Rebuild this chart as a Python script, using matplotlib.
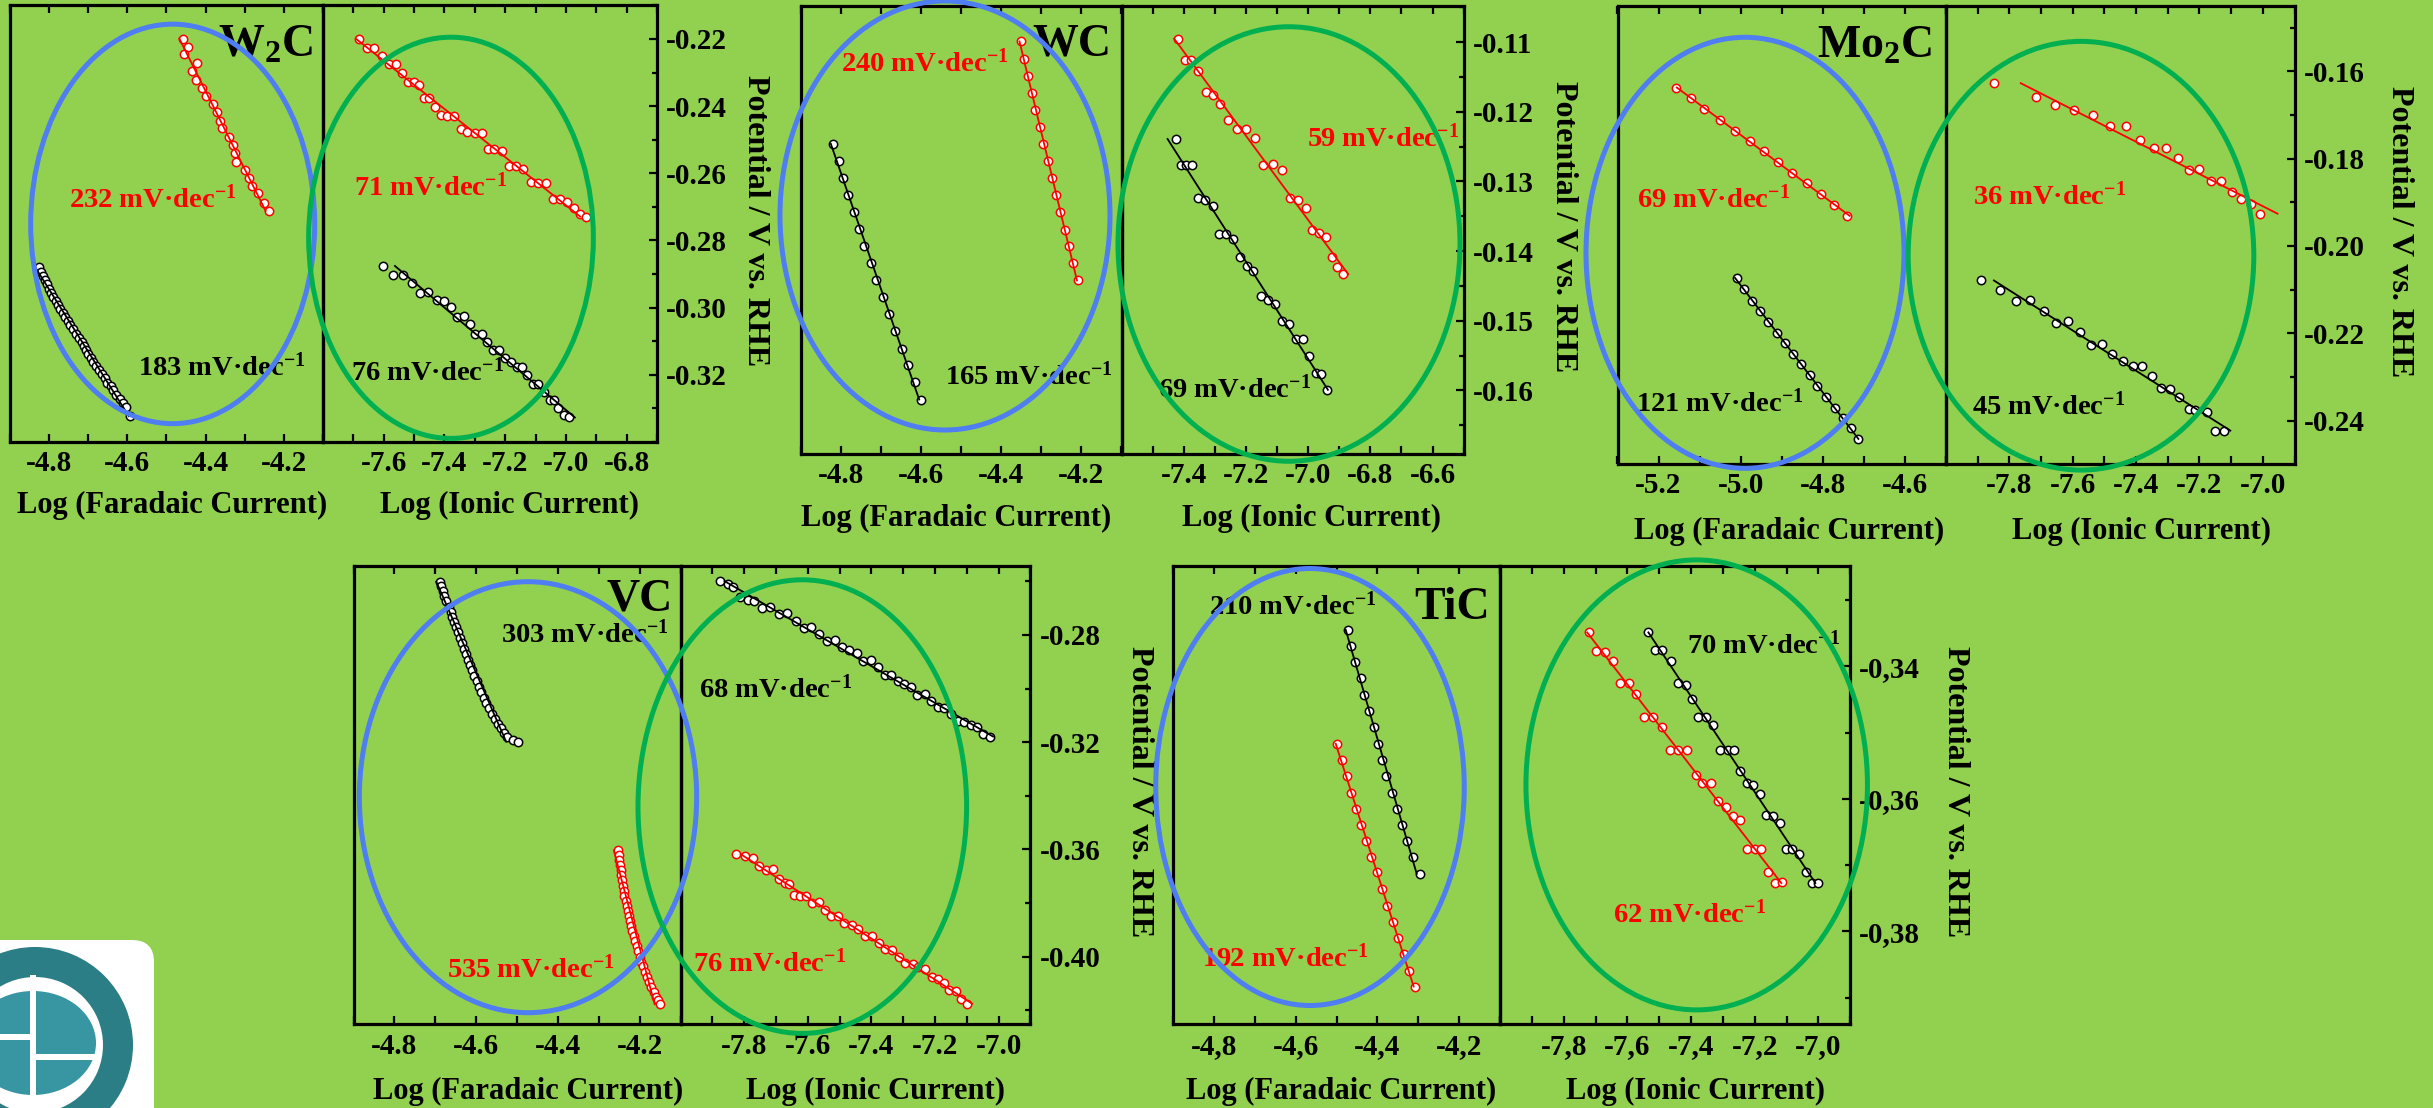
import numpy as np
import matplotlib
matplotlib.use('Agg')
import matplotlib.pyplot as plt
from matplotlib.patches import Ellipse, FancyBboxPatch, Wedge, Rectangle
from matplotlib.ticker import MultipleLocator, FuncFormatter

plt.rcParams['font.family'] = ['Liberation Serif', 'DejaVu Serif']
plt.rcParams['font.weight'] = 'bold'
plt.rcParams['mathtext.fontset'] = 'custom'
plt.rcParams['mathtext.rm'] = 'Liberation Serif:bold'
plt.rcParams['mathtext.it'] = 'Liberation Serif:bold'
plt.rcParams['mathtext.bf'] = 'Liberation Serif:bold'
plt.rcParams['mathtext.default'] = 'rm'
plt.rcParams['axes.unicode_minus'] = False

# ---------------- data ----------------
# W2C
w2c_far_red_x = [-4.458, -4.445, -4.454, -4.421, -4.436, -4.424, -4.410, -4.399, -4.381, -4.370, -4.363,
                 -4.358, -4.341, -4.331, -4.324, -4.322, -4.299, -4.288, -4.282, -4.265, -4.250, -4.237]
w2c_far_red_y = [-0.2199, -0.2223, -0.2246, -0.2271, -0.2296, -0.2321, -0.2345, -0.2370, -0.2394, -0.2419, -0.2444,
                 -0.2466, -0.2491, -0.2516, -0.2541, -0.2566, -0.2590, -0.2615, -0.2637, -0.2660, -0.2687, -0.2712]
w2c_far_blk_x = [-4.825, -4.821, -4.816, -4.811, -4.806, -4.801, -4.795, -4.789, -4.783, -4.778, -4.772, -4.765,
                 -4.759, -4.752, -4.747, -4.739, -4.731, -4.724, -4.717, -4.711, -4.706, -4.700, -4.694, -4.687,
                 -4.680, -4.672, -4.665, -4.658, -4.651, -4.643, -4.636, -4.628, -4.620, -4.612, -4.603, -4.593]
w2c_far_blk_y = [-0.2880, -0.2893, -0.2906, -0.2918, -0.2931, -0.2944, -0.2956, -0.2968, -0.2980, -0.2993, -0.3005,
                 -0.3017, -0.3027, -0.3040, -0.3052, -0.3065, -0.3077, -0.3089, -0.3101, -0.3114, -0.3126, -0.3139,
                 -0.3151, -0.3163, -0.3174, -0.3186, -0.3199, -0.3210, -0.3223, -0.3234, -0.3245, -0.3259, -0.3272,
                 -0.3284, -0.3295, -0.3323]
w2c_ion_red_x = [-7.680, -7.656, -7.632, -7.607, -7.582, -7.560, -7.539, -7.519, -7.500, -7.484, -7.469, -7.450,
                 -7.431, -7.411, -7.393, -7.368, -7.346, -7.325, -7.300, -7.277, -7.258, -7.236, -7.211, -7.189,
                 -7.165, -7.141, -7.116, -7.092, -7.065, -7.041, -7.019, -6.995, -6.973, -6.953, -6.934]
w2c_ion_red_y = [-0.2201, -0.2228, -0.2226, -0.2250, -0.2276, -0.2276, -0.2301, -0.2328, -0.2328, -0.2338, -0.2377,
                 -0.2377, -0.2402, -0.2427, -0.2429, -0.2429, -0.2468, -0.2476, -0.2479, -0.2481, -0.2528, -0.2528,
                 -0.2534, -0.2578, -0.2578, -0.2588, -0.2625, -0.2628, -0.2630, -0.2677, -0.2677, -0.2685, -0.2702,
                 -0.2721, -0.2729]
w2c_ion_blk_x = [-7.601, -7.568, -7.538, -7.508, -7.480, -7.453, -7.426, -7.401, -7.378, -7.360, -7.335, -7.316,
                 -7.299, -7.277, -7.261, -7.239, -7.219, -7.200, -7.182, -7.162, -7.145, -7.129, -7.109, -7.091,
                 -7.072, -7.052, -7.039, -7.025, -7.006, -6.991]
w2c_ion_blk_y = [-0.2876, -0.2903, -0.2903, -0.2928, -0.2956, -0.2953, -0.2977, -0.2980, -0.2999, -0.3027, -0.3024,
                 -0.3050, -0.3077, -0.3077, -0.3101, -0.3126, -0.3126, -0.3151, -0.3161, -0.3176, -0.3178, -0.3201,
                 -0.3227, -0.3227, -0.3250, -0.3275, -0.3275, -0.3300, -0.3320, -0.3327]

# WC
wc_far_red_x = [-4.352, -4.343, -4.333, -4.324, -4.315, -4.304, -4.295, -4.284, -4.274, -4.263, -4.253, -4.241,
                -4.232, -4.220, -4.209]
wc_far_red_y = [-0.1099, -0.1124, -0.1148, -0.1173, -0.1198, -0.1222, -0.1246, -0.1270, -0.1295, -0.1320, -0.1344,
                -0.1369, -0.1393, -0.1417, -0.1442]
wc_far_blk_x = [-4.820, -4.806, -4.794, -4.782, -4.768, -4.755, -4.742, -4.726, -4.712, -4.696, -4.680, -4.666,
                -4.649, -4.633, -4.615, -4.601]
wc_far_blk_y = [-0.1246, -0.1271, -0.1295, -0.1320, -0.1344, -0.1368, -0.1393, -0.1417, -0.1441, -0.1466, -0.1490,
                -0.1515, -0.1540, -0.1563, -0.1588, -0.1613]
wc_ion_red_x = [-7.417, -7.396, -7.377, -7.353, -7.329, -7.305, -7.283, -7.257, -7.230, -7.200, -7.172, -7.144,
                -7.114, -7.085, -7.058, -7.032, -7.007, -6.986, -6.964, -6.943, -6.924, -6.906, -6.887]
wc_ion_red_y = [-0.1095, -0.1126, -0.1125, -0.1141, -0.1171, -0.1176, -0.1189, -0.1212, -0.1225, -0.1225, -0.1238,
                -0.1276, -0.1275, -0.1283, -0.1324, -0.1326, -0.1338, -0.1370, -0.1374, -0.1379, -0.1409, -0.1423,
                -0.1433]
wc_ion_blk_x = [-7.425, -7.409, -7.393, -7.374, -7.355, -7.332, -7.307, -7.286, -7.264, -7.241, -7.219, -7.198,
                -7.176, -7.152, -7.130, -7.107, -7.083, -7.061, -7.039, -7.018, -6.996, -6.975, -6.957, -6.938]
wc_ion_blk_y = [-0.1239, -0.1276, -0.1276, -0.1276, -0.1323, -0.1326, -0.1335, -0.1376, -0.1376, -0.1382, -0.1409,
                -0.1422, -0.1429, -0.1464, -0.1470, -0.1476, -0.1500, -0.1504, -0.1526, -0.1526, -0.1551, -0.1575,
                -0.1576, -0.1599]

# Mo2C
mo_far_red_x = [-5.158, -5.120, -5.089, -5.050, -5.014, -4.978, -4.944, -4.908, -4.874, -4.839, -4.805, -4.773, -4.741]
mo_far_red_y = [-0.1637, -0.1661, -0.1687, -0.1711, -0.1736, -0.1759, -0.1783, -0.1807, -0.1832, -0.1856, -0.1880,
                -0.1906, -0.1931]
mo_far_blk_x = [-5.010, -4.992, -4.973, -4.953, -4.933, -4.912, -4.893, -4.872, -4.853, -4.832, -4.813, -4.791,
                -4.771, -4.750, -4.731, -4.714]
mo_far_blk_y = [-0.2073, -0.2099, -0.2125, -0.2148, -0.2174, -0.2199, -0.2223, -0.2247, -0.2271, -0.2296, -0.2321,
                -0.2345, -0.2371, -0.2395, -0.2418, -0.2442]
mo_ion_red_x = [-7.848, -7.715, -7.655, -7.595, -7.537, -7.483, -7.431, -7.386, -7.344, -7.305, -7.269, -7.234,
                -7.200, -7.164, -7.132, -7.098, -7.069, -7.038, -7.008]
mo_ion_red_y = [-0.1627, -0.1659, -0.1678, -0.1688, -0.1699, -0.1726, -0.1726, -0.1758, -0.1776, -0.1776, -0.1799,
                -0.1827, -0.1824, -0.1852, -0.1852, -0.1877, -0.1893, -0.1903, -0.1926]
mo_ion_blk_x = [-7.888, -7.830, -7.780, -7.734, -7.691, -7.653, -7.616, -7.577, -7.543, -7.506, -7.475, -7.441,
                -7.410, -7.381, -7.349, -7.320, -7.292, -7.266, -7.234, -7.213, -7.177, -7.151, -7.122]
mo_ion_blk_y = [-0.2079, -0.2100, -0.2125, -0.2123, -0.2148, -0.2177, -0.2173, -0.2198, -0.2226, -0.2225, -0.2247,
                -0.2263, -0.2276, -0.2274, -0.2297, -0.2326, -0.2327, -0.2345, -0.2374, -0.2375, -0.2381, -0.2423,
                -0.2423]

# VC
vc_far_blk_x = [-4.689, -4.685, -4.682, -4.678, -4.673, -4.667, -4.662, -4.658, -4.653, -4.649, -4.644, -4.640,
                -4.635, -4.630, -4.624, -4.621, -4.615, -4.610, -4.605, -4.599, -4.594, -4.587, -4.581, -4.576,
                -4.569, -4.562, -4.554, -4.547, -4.540, -4.533, -4.524, -4.510, -4.497]
vc_far_blk_y = [-0.2601, -0.2617, -0.2635, -0.2655, -0.2675, -0.2696, -0.2716, -0.2732, -0.2750, -0.2770, -0.2790,
                -0.2811, -0.2831, -0.2851, -0.2871, -0.2892, -0.2912, -0.2932, -0.2952, -0.2973, -0.2993, -0.3013,
                -0.3034, -0.3054, -0.3074, -0.3094, -0.3115, -0.3132, -0.3148, -0.3166, -0.3182, -0.3192, -0.3198]
vc_far_red_x = [-4.2535, -4.2517, -4.2499, -4.2482, -4.2464, -4.2446, -4.2428, -4.2410, -4.2392, -4.2374, -4.2338,
                -4.2320, -4.2285, -4.2267, -4.2231, -4.2213, -4.2177, -4.2141, -4.2105, -4.2070, -4.2034, -4.1998,
                -4.1962, -4.1908, -4.1873, -4.1819, -4.1765, -4.1712, -4.1658, -4.1604, -4.1550, -4.1497]
vc_far_red_y = [-0.3604, -0.3621, -0.3640, -0.3659, -0.3678, -0.3697, -0.3716, -0.3735, -0.3754, -0.3773, -0.3791,
                -0.3810, -0.3829, -0.3848, -0.3867, -0.3886, -0.3905, -0.3924, -0.3943, -0.3962, -0.3981, -0.4000,
                -0.4019, -0.4037, -0.4056, -0.4075, -0.4094, -0.4113, -0.4132, -0.4151, -0.4164, -0.4178]
vc_ion_blk_x = [-7.875, -7.851, -7.834, -7.813, -7.789, -7.768, -7.744, -7.719, -7.692, -7.664, -7.638, -7.612,
                -7.589, -7.564, -7.540, -7.516, -7.493, -7.470, -7.446, -7.425, -7.402, -7.379, -7.358, -7.337,
                -7.316, -7.296, -7.275, -7.256, -7.233, -7.212, -7.192, -7.171, -7.150, -7.129, -7.109, -7.088,
                -7.067, -7.048, -7.028]
vc_ion_blk_y = [-0.2599, -0.2610, -0.2620, -0.2660, -0.2670, -0.2672, -0.2698, -0.2694, -0.2722, -0.2719, -0.2747,
                -0.2775, -0.2769, -0.2796, -0.2821, -0.2819, -0.2844, -0.2856, -0.2868, -0.2896, -0.2893, -0.2921,
                -0.2949, -0.2949, -0.2970, -0.2983, -0.2995, -0.3024, -0.3020, -0.3045, -0.3070, -0.3074, -0.3095,
                -0.3120, -0.3123, -0.3136, -0.3144, -0.3169, -0.3179]
vc_ion_red_x = [-7.825, -7.799, -7.773, -7.753, -7.732, -7.711, -7.692, -7.672, -7.659, -7.644, -7.626, -7.607,
                -7.586, -7.566, -7.545, -7.526, -7.505, -7.485, -7.462, -7.441, -7.420, -7.397, -7.377, -7.356,
                -7.335, -7.314, -7.294, -7.270, -7.252, -7.231, -7.210, -7.192, -7.173, -7.155, -7.135, -7.119,
                -7.100]
vc_ion_red_y = [-0.3618, -0.3624, -0.3631, -0.3664, -0.3679, -0.3674, -0.3711, -0.3724, -0.3729, -0.3770, -0.3774,
                -0.3774, -0.3801, -0.3798, -0.3828, -0.3848, -0.3848, -0.3876, -0.3882, -0.3898, -0.3925, -0.3923,
                -0.3950, -0.3973, -0.3975, -0.4000, -0.4025, -0.4027, -0.4040, -0.4047, -0.4077, -0.4084, -0.4099,
                -0.4124, -0.4128, -0.4159, -0.4176]

# TiC
tic_far_blk_x = [-4.473, -4.464, -4.455, -4.441, -4.432, -4.420, -4.409, -4.399, -4.390, -4.378, -4.364, -4.352,
                 -4.339, -4.327, -4.313, -4.297]
tic_far_blk_y = [-0.3345, -0.3370, -0.3394, -0.3418, -0.3443, -0.3468, -0.3492, -0.3517, -0.3541, -0.3566, -0.3591,
                 -0.3615, -0.3640, -0.3663, -0.3688, -0.3713]
tic_far_red_x = [-4.499, -4.486, -4.475, -4.465, -4.452, -4.441, -4.427, -4.415, -4.402, -4.390, -4.376, -4.363,
                 -4.350, -4.336, -4.322, -4.308]
tic_far_red_y = [-0.3517, -0.3541, -0.3566, -0.3591, -0.3615, -0.3640, -0.3663, -0.3688, -0.3711, -0.3736, -0.3761,
                 -0.3785, -0.3810, -0.3834, -0.3859, -0.3883]
tic_ion_red_x = [-7.721, -7.698, -7.672, -7.646, -7.623, -7.596, -7.573, -7.547, -7.519, -7.493, -7.467, -7.440,
                 -7.414, -7.386, -7.365, -7.339, -7.315, -7.292, -7.268, -7.245, -7.224, -7.200, -7.180, -7.159,
                 -7.138, -7.115]
tic_ion_red_y = [-0.3349, -0.3377, -0.3379, -0.3392, -0.3426, -0.3426, -0.3442, -0.3476, -0.3476, -0.3491, -0.3527,
                 -0.3526, -0.3527, -0.3564, -0.3576, -0.3576, -0.3603, -0.3612, -0.3626, -0.3632, -0.3675, -0.3676,
                 -0.3675, -0.3710, -0.3727, -0.3725]
tic_ion_blk_x = [-7.535, -7.513, -7.490, -7.464, -7.440, -7.417, -7.396, -7.377, -7.352, -7.331, -7.308, -7.284,
                 -7.266, -7.245, -7.226, -7.206, -7.183, -7.164, -7.143, -7.120, -7.102, -7.082, -7.061, -7.040,
                 -7.021, -7.000]
tic_ion_blk_y = [-0.3349, -0.3375, -0.3376, -0.3392, -0.3426, -0.3429, -0.3449, -0.3476, -0.3476, -0.3489, -0.3527,
                 -0.3527, -0.3527, -0.3558, -0.3576, -0.3579, -0.3593, -0.3625, -0.3626, -0.3636, -0.3675, -0.3675,
                 -0.3683, -0.3710, -0.3727, -0.3727]

# slope labels (faradaic red, faradaic black, ionic red, ionic black)
slopes = {
    'w2c': ['232', '183', '71', '76'],
    'wc': ['240', '165', '59', '69'],
    'mo': ['69', '121', '36', '45'],
    'vc': ['535', '303', '76', '68'],
    'tic': ['192', '210', '62', '70'],
}

# ---------------- drawing ----------------
W, H = 2433, 1108
BG = '#92d050'
RED = '#ff0000'
BLUE = '#4f7df2'
GREEN = '#00b050'

fig = plt.figure(figsize=(W / 100, H / 100), dpi=100, facecolor=BG)


def px_axes(x, y, w, h):
    return fig.add_axes([x / W, 1 - (y + h) / H, w / W, h / H])


def fmt(dec, comma):
    def f(v, pos):
        s = '%.*f' % (dec, v)
        return s.replace('.', ',') if comma else s
    return FuncFormatter(f)


def draw(ax, xs, ys, col):
    ax.plot(xs, ys, 'o', ms=6, mfc='white', mec=col, mew=1.1, zorder=3)
    # linear fit, drawn between the first and last potential
    k = np.polyfit(ys, xs, 1)
    yy = np.array([max(ys), min(ys)])
    ax.plot(np.polyval(k, yy), yy, color=col, lw=1.3, zorder=4)


def slope_txt(v):
    return v + ' mV\u00b7dec$^{-1}$'


def panel(box_f, box_i, xlim_f, xlim_i, ylim, xt_f, xt_i, yt, ystep, ydec,
          ser_f, ser_i, title, title_pos, lab_f, lab_i, comma=False):
    axf = px_axes(*box_f)
    axi = px_axes(*box_i)
    for ax in (axf, axi):
        ax.set_facecolor('none')
        for s in ax.spines.values():
            s.set_linewidth(2.3)
        ax.set_ylim(*ylim)
        ax.xaxis.set_minor_locator(MultipleLocator(0.1))
        ax.tick_params(axis='x', which='both', direction='in', top=True, bottom=True,
                       length=6, width=1.6, pad=6, labelsize=21)
        ax.xaxis.set_major_formatter(fmt(1, comma))
    axf.set_xlim(*xlim_f)
    axi.set_xlim(*xlim_i)
    axf.set_xticks(xt_f)
    axi.set_xticks(xt_i)
    axf.tick_params(axis='y', which='both', left=False, right=False, labelleft=False)
    axi.yaxis.tick_right()
    axi.set_yticks(yt)
    axi.set_ylim(*ylim)
    axi.yaxis.set_minor_locator(MultipleLocator(ystep))
    axi.yaxis.set_major_formatter(fmt(ydec, comma))
    axi.tick_params(axis='y', which='both', direction='in', left=False, right=True,
                    labelleft=False, labelright=True, width=1.6, pad=6.5, labelsize=21)
    axi.tick_params(axis='y', which='major', length=6)
    axi.tick_params(axis='y', which='minor', length=3.5)
    for xs, ys, col in ser_f:
        draw(axf, xs, ys, col)
    for xs, ys, col in ser_i:
        draw(axi, xs, ys, col)
    axf.text(title_pos[0], title_pos[1], title, transform=axf.transAxes, ha='right', va='top',
             fontsize=33)
    for ax, labs in ((axf, lab_f), (axi, lab_i)):
        for txt, col, xf, yf in labs:
            ax.text(xf, yf, slope_txt(txt), color=col, transform=ax.transAxes,
                    ha='left', va='center', fontsize=20.5)
    return axf, axi


s = slopes['w2c']
panel((10, 5, 313, 437), (323, 5, 334, 437), (-4.9, -4.1), (-7.8, -6.7), (-0.340, -0.2099),
      [-4.8, -4.6, -4.4, -4.2], [-7.6, -7.4, -7.2, -7.0, -6.8],
      [-0.32, -0.30, -0.28, -0.26, -0.24, -0.22], 0.01, 2,
      [(w2c_far_red_x, w2c_far_red_y, RED), (w2c_far_blk_x, w2c_far_blk_y, 'black')],
      [(w2c_ion_red_x, w2c_ion_red_y, RED), (w2c_ion_blk_x, w2c_ion_blk_y, 'black')],
      'W$_2$C', (0.968, 0.955),
      [(s[0], RED, 0.188, 0.556), (s[1], 'black', 0.408, 0.170)],
      [(s[2], RED, 0.092, 0.582), (s[3], 'black', 0.084, 0.160)])

s = slopes['wc']
panel((801, 5.9, 320.5, 448), (1121.5, 5.9, 342.1, 448), (-4.9, -4.1), (-7.6, -6.5), (-0.1691, -0.1048),
      [-4.8, -4.6, -4.4, -4.2], [-7.4, -7.2, -7.0, -6.8, -6.6],
      [-0.16, -0.15, -0.14, -0.13, -0.12, -0.11], 0.005, 2,
      [(wc_far_red_x, wc_far_red_y, RED), (wc_far_blk_x, wc_far_blk_y, 'black')],
      [(wc_ion_red_x, wc_ion_red_y, RED), (wc_ion_blk_x, wc_ion_blk_y, 'black')],
      'WC', (0.967, 0.960),
      [(s[0], RED, 0.125, 0.871), (s[1], 'black', 0.450, 0.172)],
      [(s[2], RED, 0.541, 0.704), (s[3], 'black', 0.106, 0.145)])

s = slopes['mo']
panel((1617.5, 5.9, 328.4, 457.9), (1945.9, 5.9, 348.6, 457.9), (-5.3, -4.5), (-8.0, -6.9), (-0.2499, -0.1450),
      [-5.2, -5.0, -4.8, -4.6], [-7.8, -7.6, -7.4, -7.2, -7.0],
      [-0.24, -0.22, -0.20, -0.18, -0.16], 0.01, 2,
      [(mo_far_red_x, mo_far_red_y, RED), (mo_far_blk_x, mo_far_blk_y, 'black')],
      [(mo_ion_red_x, mo_ion_red_y, RED), (mo_ion_blk_x, mo_ion_blk_y, 'black')],
      'Mo$_2$C', (0.959, 0.957),
      [(s[0], RED, 0.060, 0.578), (s[1], 'black', 0.057, 0.131)],
      [(s[2], RED, 0.079, 0.584), (s[3], 'black', 0.075, 0.126)])

s = slopes['vc']
panel((353.5, 566.1, 327.1, 458.2), (680.6, 566.1, 349.8, 458.2), (-4.9, -4.1), (-8.0, -6.9), (-0.4253, -0.2543),
      [-4.8, -4.6, -4.4, -4.2], [-7.8, -7.6, -7.4, -7.2, -7.0],
      [-0.40, -0.36, -0.32, -0.28], 0.02, 2,
      [(vc_far_red_x, vc_far_red_y, RED), (vc_far_blk_x, vc_far_blk_y, 'black')],
      [(vc_ion_red_x, vc_ion_red_y, RED), (vc_ion_blk_x, vc_ion_blk_y, 'black')],
      'VC', (0.975, 0.972),
      [(s[0], RED, 0.287, 0.120), (s[1], 'black', 0.451, 0.850)],
      [(s[2], RED, 0.036, 0.132), (s[3], 'black', 0.052, 0.731)])

s = slopes['tic']
panel((1173, 566.1, 327.1, 458.2), (1500.1, 566.1, 350.2, 458.2), (-4.9, -4.1), (-8.0, -6.9), (-0.3940, -0.3249),
      [-4.8, -4.6, -4.4, -4.2], [-7.8, -7.6, -7.4, -7.2, -7.0],
      [-0.38, -0.36, -0.34], 0.01, 2,
      [(tic_far_red_x, tic_far_red_y, RED), (tic_far_blk_x, tic_far_blk_y, 'black')],
      [(tic_ion_red_x, tic_ion_red_y, RED), (tic_ion_blk_x, tic_ion_blk_y, 'black')],
      'TiC', (0.968, 0.954),
      [(s[0], RED, 0.088, 0.144), (s[1], 'black', 0.110, 0.912)],
      [(s[2], RED, 0.323, 0.239), (s[3], 'black', 0.533, 0.826)],
      comma=True)

# axis titles
xlab = [(172, 505, 'Log (Faradaic Current)'), (509, 505, 'Log (Ionic Current)'),
        (956, 518, 'Log (Faradaic Current)'), (1312, 518, 'Log (Ionic Current)'),
        (1789, 531, 'Log (Faradaic Current)'), (2141, 531, 'Log (Ionic Current)'),
        (528, 1091, 'Log (Faradaic Current)'), (875, 1091, 'Log (Ionic Current)'),
        (1341, 1091, 'Log (Faradaic Current)'), (1696, 1091, 'Log (Ionic Current)')]
for x, y, t in xlab:
    fig.text(x / W, 1 - y / H, t, ha='center', va='center', fontsize=22)

for x, y in [(756, 221), (1564, 227), (2399, 232), (1140, 792), (1955, 792)]:
    fig.text(x / W, 1 - y / H, 'Potential / V vs. RHE', rotation=270, ha='center', va='center',
             fontsize=23)

# highlight ellipses
ells = [(172.7, 223.9, 284, 399.5, BLUE), (451, 237.8, 284.7, 401.2, GREEN),
        (945, 215.5, 330, 429, BLUE), (1289, 244, 342, 434.5, GREEN),
        (1745, 252.8, 318, 431, BLUE), (2081, 255.7, 345.6, 428.7, GREEN),
        (528, 797.2, 337.3, 431, BLUE), (802.3, 806.6, 328.6, 453.6, GREEN),
        (1310, 787, 308.5, 437, BLUE), (1696.7, 784.9, 341.5, 450, GREEN)]
for cx, cy, w, h, c in ells:
    fig.add_artist(Ellipse((cx / W, 1 - cy / H), w / W, h / H, transform=fig.transFigure,
                           fill=False, ec=c, lw=3.6, zorder=10))

# logo in the bottom-left corner
lg = fig.add_axes([0, 0, 180 / W, 178 / H])
lg.set_xlim(0, 180)
lg.set_ylim(178, 0)
lg.axis('off')
lg.add_patch(FancyBboxPatch((-40, 10), 194, 220, boxstyle='round,pad=0,rounding_size=22',
                            fc='white', ec='none'))
lg.add_patch(Wedge((35, 115), 98, 0, 360, width=30, fc='#2b7d86', ec='none'))
lg.add_patch(Ellipse((33, 113), 126, 104, fc='#3796a2', ec='none'))
lg.add_patch(Rectangle((30, 45), 6, 140, fc='white', ec='none'))
lg.add_patch(Rectangle((-10, 104), 42, 6, fc='white', ec='none'))
lg.add_patch(Rectangle((33, 124), 64, 6, fc='white', ec='none'))

fig.savefig('out.png', dpi=100, facecolor=BG)
